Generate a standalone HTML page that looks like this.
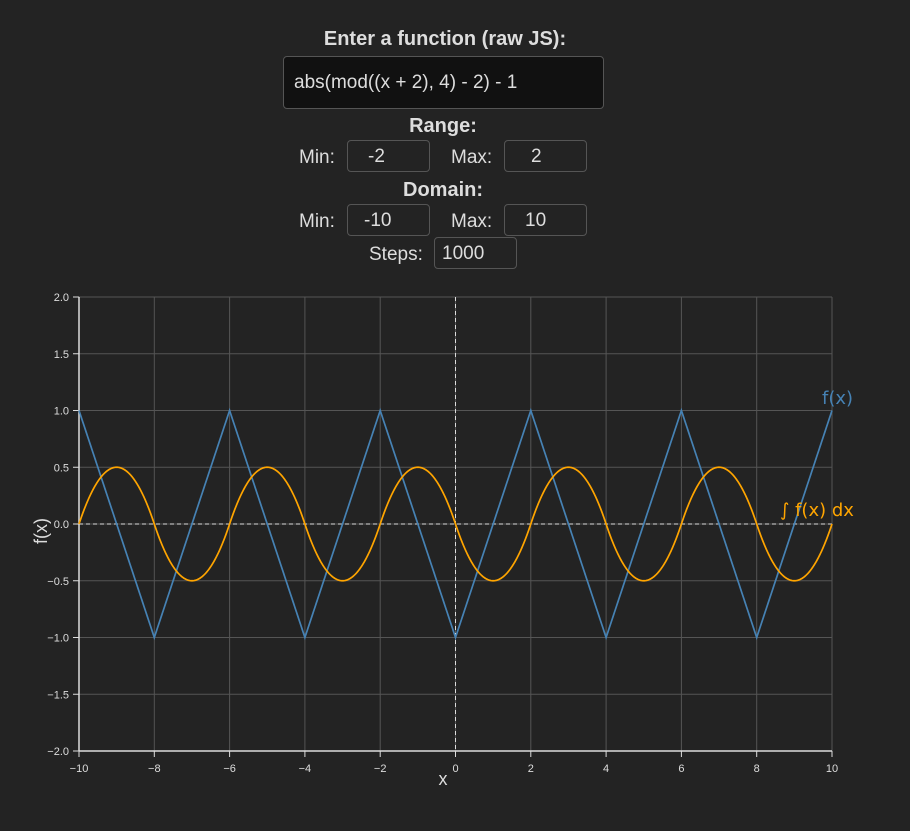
<!DOCTYPE html>
<html><head><meta charset="utf-8"><style>
body{margin:0;width:910px;height:831px;background:#232323;font-family:"Liberation Sans","DejaVu Sans",sans-serif;color:#ddd;position:relative;overflow:hidden}
.a{position:absolute}
.lbl{font-size:19px;color:#ddd}
.h{font-weight:bold;font-size:20px;color:#ddd;text-align:center}
.inp{position:absolute;box-sizing:border-box;border:1px solid #555;border-radius:4px;background:#232323;color:#ddd;font-size:19px;padding:0 0 0 20px;line-height:31px;height:32px;width:83px}
</style></head><body>
<div class="a h" style="left:280px;top:28px;width:330px">Enter a function (raw JS):</div>
<div class="inp" style="left:283px;top:56px;width:321px;height:53px;line-height:51px;background:#111;padding-left:10px">abs(mod((x + 2), 4) - 2) - 1</div>
<div class="a h" style="left:343px;top:115px;width:200px">Range:</div>
<div class="a lbl" style="left:299px;top:147px">Min:</div>
<div class="inp" style="left:347px;top:140px">-2</div>
<div class="a lbl" style="left:451px;top:147px">Max:</div>
<div class="inp" style="left:504px;top:140px;padding-left:26px">2</div>
<div class="a h" style="left:343px;top:179px;width:200px">Domain:</div>
<div class="a lbl" style="left:299px;top:211px">Min:</div>
<div class="inp" style="left:347px;top:204px;padding-left:16px">-10</div>
<div class="a lbl" style="left:451px;top:211px">Max:</div>
<div class="inp" style="left:504px;top:204px;padding-left:20px">10</div>
<div class="a lbl" style="left:369px;top:244px">Steps:</div>
<div class="inp" style="left:434px;top:237px;padding-left:7px">1000</div>
<svg class="a" style="left:0;top:0" width="910" height="831" id="chart"></svg>
<script>
const fxKnots=[-10,-8,-6,-4,-2,0,2,4,6,8,10];
const fyKnots=[1,-1,1,-1,1,-1,1,-1,1,-1,1];
const xTicks=[-10,-8,-6,-4,-2,0,2,4,6,8,10];
const yTicks=[-2,-1.5,-1,-0.5,0,0.5,1,1.5,2];
const steps=1000;
const X0=79,X1=832,Y0=751,Y1=297;
const sx=v=>X0+(v+10)/20*(X1-X0);
const sy=v=>Y0-(v+2)/4*(Y0-Y1);
const svg=document.getElementById('chart');
const NS='http://www.w3.org/2000/svg';
function mk(t,attrs){const e=document.createElementNS(NS,t);for(const k in attrs)e.setAttribute(k,attrs[k]);svg.appendChild(e);return e;}
function fAt(x){for(let i=0;i<fxKnots.length-1;i++){if(x<=fxKnots[i+1]){const t=(x-fxKnots[i])/(fxKnots[i+1]-fxKnots[i]);return fyKnots[i]+t*(fyKnots[i+1]-fyKnots[i]);}}return fyKnots[fyKnots.length-1];}
xTicks.forEach(v=>{const g=mk('line',{x1:sx(v),x2:sx(v),y1:Y1,y2:Y0,stroke:'#555','stroke-width':1});
const t=mk('line',{x1:sx(v),x2:sx(v),y1:Y0,y2:Y0+6,stroke:'#ddd'});
const l=mk('text',{x:sx(v),y:Y0+21,fill:'#ddd','font-size':11,'text-anchor':'middle'});l.textContent=String(v).replace('-','−');});
yTicks.forEach(v=>{const g=mk('line',{x1:X0,x2:X1,y1:sy(v),y2:sy(v),stroke:'#555','stroke-width':1});
const t=mk('line',{x1:X0-6,x2:X0,y1:sy(v),y2:sy(v),stroke:'#ddd'});
const l=mk('text',{x:X0-10,y:sy(v)+4,fill:'#ddd','font-size':11,'text-anchor':'end'});l.textContent=v.toFixed(1).replace('-','−');});
let a=mk('line',{x1:X0,x2:X1,y1:Y0,y2:Y0,stroke:'#ddd','stroke-width':1.5});
a=mk('line',{x1:X0,x2:X0,y1:Y1,y2:Y0,stroke:'#ddd','stroke-width':1.5});
a=mk('line',{x1:X0,x2:X1,y1:sy(0),y2:sy(0),stroke:'#ddd','stroke-dasharray':'4,3'});
a=mk('line',{x1:sx(0),x2:sx(0),y1:Y1,y2:Y0,stroke:'#ddd','stroke-dasharray':'4,3'});
let fd='',id='',acc=0,prev=-10;
for(let i=0;i<=steps;i++){const x=-10+20*i/steps;if(i>0){acc+=(fAt(prev)+fAt(x))/2*(x-prev);}prev=x;
fd+=(i?'L':'M')+sx(x).toFixed(2)+','+sy(fAt(x)).toFixed(2);id+=(i?'L':'M')+sx(x).toFixed(2)+','+sy(acc).toFixed(2);}
a=mk('path',{d:fd,fill:'none',stroke:'#4682b4','stroke-width':1.7});
a=mk('path',{d:id,fill:'none',stroke:'#ffa500','stroke-width':1.7});
a=mk('text',{x:822,y:404,fill:'#4682b4','font-size':18,'font-family':'DejaVu Sans'});a.textContent='f(x)';
a=mk('text',{x:780,y:516,fill:'#ffa500','font-size':18,'font-family':'DejaVu Sans'});a.textContent='∫ f(x) dx';
a=mk('text',{x:443,y:785,fill:'#ddd','font-size':18,'text-anchor':'middle'});a.textContent='x';
a=mk('text',{x:0,y:0,fill:'#ddd','font-size':18,'text-anchor':'middle',transform:'translate(47,531) rotate(-90)'});a.textContent='f(x)';
</script>
</body></html>
